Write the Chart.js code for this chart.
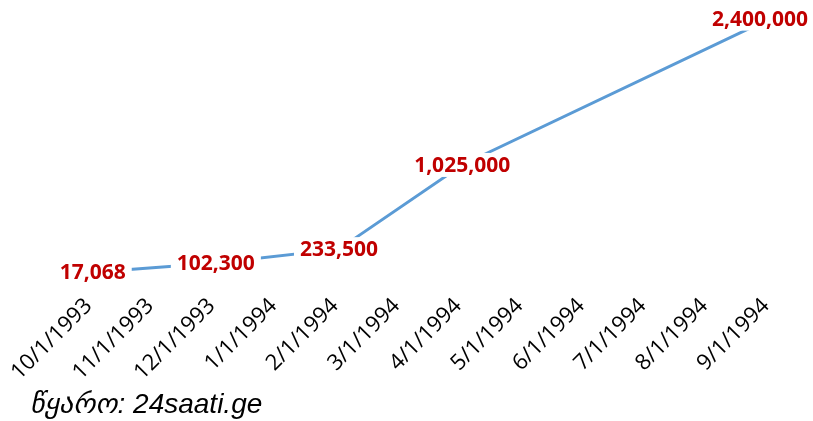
<!DOCTYPE html>
<html>
<head>
<meta charset="utf-8">
<script src="https://cdn.jsdelivr.net/npm/chart.js@4/dist/chart.umd.min.js"></script>
<style>
  html, body { margin: 0; padding: 0; background: #fff; }
  #wrap { width: 813px; height: 421px; position: relative; }
  #source {
    position: absolute; left: 30px; top: 389px;
    font: italic 28px "Liberation Sans", "DejaVu Sans", sans-serif;
    color: #000; line-height: 30px; white-space: nowrap;
  }
</style>
</head>
<body>
<div id="wrap">
  <canvas id="chart"></canvas>
  <div id="source"></div>
</div>
<script>
const months = ['10/1/1993','11/1/1993','12/1/1993','1/1/1994','2/1/1994','3/1/1994',
                '4/1/1994','5/1/1994','6/1/1994','7/1/1994','8/1/1994','9/1/1994'];
const values = [17068, null, 102300, null, 233500, null,
                1025000, null, null, null, null, 2400000];
const sourceText = 'წყარო: 24saati.ge';

document.getElementById('source').textContent = sourceText;

const fmt = v => v.toLocaleString('en-US');

// white-boxed red labels sitting on top of the points
const pointLabels = {
  id: 'pointLabels',
  afterDatasetsDraw(chart) {
    const ctx = chart.ctx;
    const meta = chart.getDatasetMeta(0);
    ctx.save();
    ctx.font = 'bold 21px "Open Sans", "Liberation Sans", sans-serif';
    ctx.textAlign = 'center';
    ctx.textBaseline = 'middle';
    meta.data.forEach((pt, i) => {
      const v = values[i];
      if (v == null) return;
      const txt = fmt(v);
      const tw = ctx.measureText(txt).width;
      const w = tw + 12;
      const h = 24;
      let x = pt.x;
      // keep the text inside the canvas, like the original label
      if (x + tw / 2 > chart.width - 5) x = chart.width - 5 - tw / 2;
      ctx.fillStyle = '#fff';
      ctx.fillRect(x - w / 2, pt.y - h / 2, w, h);
      ctx.fillStyle = '#C00000';
      ctx.fillText(txt, x, pt.y + 1);
    });
    ctx.restore();
  }
};

new Chart(document.getElementById('chart'), {
  type: 'line',
  data: {
    labels: months,
    datasets: [{
      data: values,
      borderColor: '#5B9BD5',
      borderWidth: 3,
      pointRadius: 0,
      spanGaps: true,
      tension: 0
    }]
  },
  options: {
    responsive: true, maintainAspectRatio: false, animation: false,
    layout: { padding: { left: 87, right: 43, top: 8, bottom: 42 } },
    plugins: {
      legend: { display: false },
      tooltip: { enabled: false }
    },
    scales: {
      x: {
        offset: false,
        afterFit: s => { s.height = 105; },
        grid: { display: false, drawTicks: false },
        border: { display: false },
        ticks: {
          color: '#000', minRotation: 45, maxRotation: 45, autoSkip: false, padding: 15,
          callback: function (v, i) { return months[i] + ' '; },
          font: { family: '"Open Sans", "Liberation Sans", sans-serif', size: 22 }
        }
      },
      y: {
        display: false,
        min: 0, max: 2500000
      }
    }
  },
  plugins: [pointLabels]
});
</script>
</body>
</html>
